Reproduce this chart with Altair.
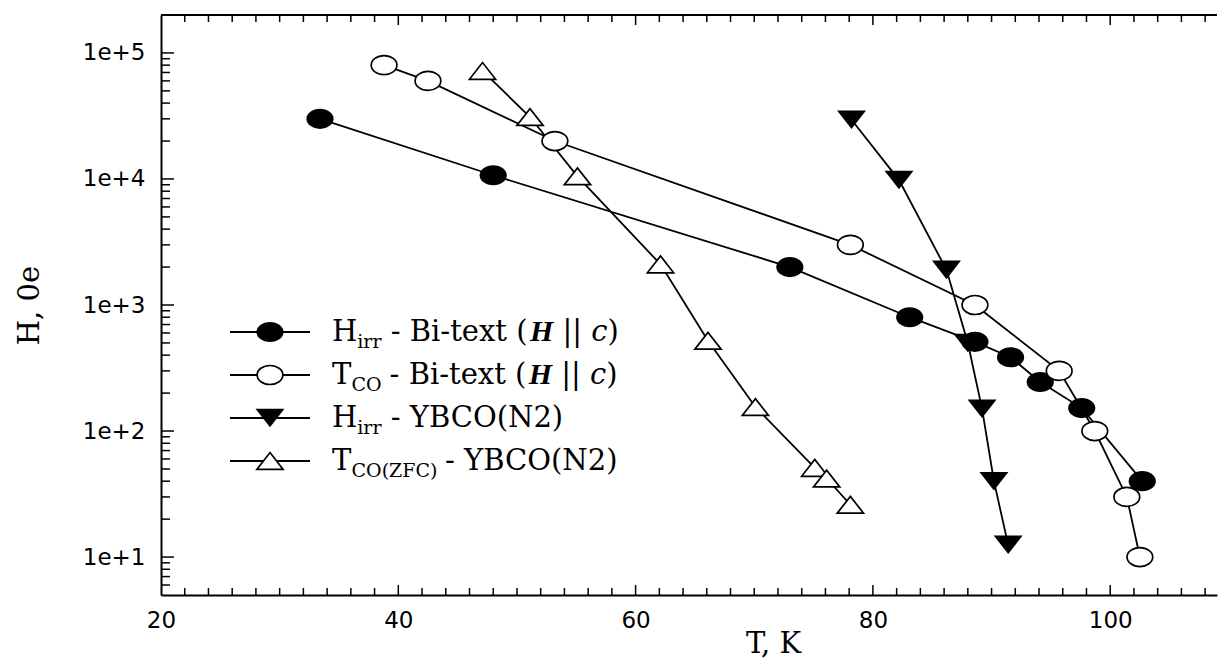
import altair as alt
import pandas as pd

# ---------------- data ----------------
hirr_bi_T = [33.4, 48.0, 73.0, 83.1, 88.6, 91.6, 94.1, 97.6, 102.7]
hirr_bi_H = [30000, 10700, 2000, 800, 510, 385, 245, 152, 40]

tco_bi_T = [38.8, 42.5, 53.2, 78.1, 88.6, 95.7, 98.7, 101.4, 102.5]
tco_bi_H = [80000, 60000, 20000, 3000, 1000, 300, 100, 30, 10]

hirr_y_T = [78.2, 82.2, 86.2, 88.0, 89.2, 90.2, 91.4]
hirr_y_H = [29500, 9800, 1900, 500, 150, 40, 12.5]

tco_y_T = [47.1, 51.1, 55.1, 62.1, 66.1, 70.1, 75.1, 76.1, 78.1]
tco_y_H = [72000, 31000, 10500, 2100, 520, 155, 51, 42, 26]

x_major = [20, 40, 60, 80, 100]
x_minor = [v for v in range(22, 109, 2) if v not in x_major]
x_major_inner = [40, 60, 80, 100]
y_major = [10, 100, 1000, 10000, 100000]
y_minor = [m * 10 ** e for e in range(0, 5) for m in range(2, 10) if m * 10 ** e > 5]

W, H = 1056, 580
xs = alt.Scale(domain=[20, 109], nice=False, zero=False)
ys = alt.Scale(type="log", domain=[5, 200000], nice=False)

ELLIPSE = "M-1,0A1,0.74,0,1,1,1,0A1,0.74,0,1,1,-1,0Z"
TRI_DOWN = "M-1,-0.64L1,-0.64L0,0.64Z"
TRI_UP = "M-1,0.64L1,0.64L0,-0.64Z"

def sdf(T, Hv, name):
    return pd.DataFrame({"T": T, "H": Hv, "s": name})

d1 = sdf(hirr_bi_T, hirr_bi_H, "a")
d2 = sdf(tco_bi_T, tco_bi_H, "b")
d3 = sdf(hirr_y_T, hirr_y_H, "c")
d4 = sdf(tco_y_T, tco_y_H, "d")
alld = pd.concat([d1, d2, d3, d4], ignore_index=True)

xaxis = alt.Axis(values=x_major, title="T, K", labelFont="DejaVu Sans", labelFontSize=23,
                 labelColor="black", labelPadding=14, ticks=False, tickSize=0,
                 domainColor="black", domainWidth=2, grid=False, labelFlush=False,
                 titleFont="DejaVu Serif", titleFontSize=29, titleFontWeight="normal",
                 titleColor="black", titleX=612, titleY=57, titleAlign="center",
                 titleBaseline="alphabetic")
yaxis = alt.Axis(values=y_major, labelExpr="'1e+' + round(log(datum.value)/LN10)",
                 title="H, 0e", labelFont="DejaVu Sans", labelFontSize=23, labelColor="black",
                 labelPadding=16, ticks=False, tickSize=0, domainColor="black", domainWidth=2,
                 grid=False, labelFlush=False, labelBaseline="middle",
                 titleFont="DejaVu Serif", titleFontSize=29, titleFontWeight="normal",
                 titleColor="black", titleX=-123, titleY=290, titleAngle=270,
                 titleAlign="center", titleBaseline="alphabetic")

X = alt.X("T:Q", scale=xs, axis=xaxis)
Y = alt.Y("H:Q", scale=ys, axis=yaxis)

lines = alt.Chart(alld).mark_line(color="black", strokeWidth=1.8).encode(
    x=X, y=Y, detail="s:N")

def pts(df, shape, filled, size):
    if filled:
        m = alt.Chart(df).mark_point(shape=shape, size=size, filled=True, fill="black",
                                     strokeWidth=0, opacity=1)
    else:
        m = alt.Chart(df).mark_point(shape=shape, size=size, filled=True, fill="white",
                                     stroke="black", strokeWidth=1.7, opacity=1)
    return m.encode(x=X, y=Y)

p1 = pts(d1, ELLIPSE, True, 740)
p2 = pts(d2, ELLIPSE, False, 660)
p3 = pts(d3, TRI_DOWN, True, 840)
p4 = pts(d4, TRI_UP, False, 690)

# ---- inward ticks ----
def xticks(vals, y0, y1):
    return alt.Chart(pd.DataFrame({"T": vals})).mark_rule(color="black", strokeWidth=1.5).encode(
        x=X, y=alt.value(y0), y2=alt.value(y1))

def yticks(vals, x0, x1):
    return alt.Chart(pd.DataFrame({"H": vals})).mark_rule(color="black", strokeWidth=1.5).encode(
        y=Y, x=alt.value(x0), x2=alt.value(x1))

ticks = [
    xticks(x_minor, H, H - 7), xticks(x_major_inner, H, H - 10),
    xticks(x_minor, 0, 7), xticks(x_major_inner, 0, 10),
    yticks(y_minor, 0, 9), yticks(y_major, 0, 13),
]

one = pd.DataFrame({"k": [0]})
top_frame = alt.Chart(one).mark_rule(color="black", strokeWidth=2).encode(
    x=alt.value(0), x2=alt.value(W), y=alt.value(0))

# ---- legend ----
row_y0, row_dy = 317, 43
lx0, lx1, lmx, tx0 = 69, 149, 109, 171
widths = {" ": 0.318, "-": 0.338, "(": 0.390, ")": 0.390, "|": 0.337, "B": 0.735, "C": 0.733,
          "F": 0.711, "H": 0.872, "N": 0.838, "O": 0.787, "T": 0.673, "Y": 0.734, "Z": 0.693,
          "c": 0.560, "e": 0.592, "i": 0.320, "r": 0.478, "t": 0.402, "x": 0.645, "2": 0.636}
styles = {
    "main": dict(font="DejaVu Serif", fontSize=29, fontStyle="normal", fontWeight="normal", dy=9),
    "sub": dict(font="DejaVu Serif", fontSize=19, fontStyle="normal", fontWeight="normal", dy=16),
    "bi": dict(font="Liberation Serif", fontSize=30, fontStyle="italic", fontWeight="bold", dy=9),
    "it": dict(font="DejaVu Serif", fontSize=29, fontStyle="italic", fontWeight="normal", dy=9),
}

def twidth(s, st):
    if st == "bi":
        return 0.778 * styles[st]["fontSize"] * len(s)
    return sum(widths.get(ch, 0.6) for ch in s) * styles[st]["fontSize"]

legend_rows = [
    [("H", "main"), ("irr", "sub"), (" - Bi-text (", "main"), ("H", "bi"), (" || ", "main"), ("c", "it"), (")", "main")],
    [("T", "main"), ("CO", "sub"), (" - Bi-text (", "main"), ("H", "bi"), (" || ", "main"), ("c", "it"), (")", "main")],
    [("H", "main"), ("irr", "sub"), (" - YBCO(N2)", "main")],
    [("T", "main"), ("CO(ZFC)", "sub"), (" - YBCO(N2)", "main")],
]
legend_shapes = [(ELLIPSE, True, 740), (ELLIPSE, False, 660), (TRI_DOWN, True, 840), (TRI_UP, False, 690)]

legend_layers = []
for i, row in enumerate(legend_rows):
    ry = row_y0 + i * row_dy
    legend_layers.append(alt.Chart(one).mark_rule(color="black", strokeWidth=1.8).encode(
        x=alt.value(lx0), x2=alt.value(lx1), y=alt.value(ry)))
    shp, filled, size = legend_shapes[i]
    if filled:
        mk = alt.Chart(one).mark_point(shape=shp, size=size, filled=True, fill="black", strokeWidth=0, opacity=1)
    else:
        mk = alt.Chart(one).mark_point(shape=shp, size=size, filled=True, fill="white", stroke="black",
                                       strokeWidth=1.7, opacity=1)
    legend_layers.append(mk.encode(x=alt.value(lmx), y=alt.value(ry)))
    cx = tx0
    for txt, st in row:
        s = styles[st]
        lead = len(txt) - len(txt.lstrip(" "))
        shown = txt.strip(" ")
        x_here = cx + lead * widths[" "] * s["fontSize"]
        legend_layers.append(alt.Chart(one).mark_text(
            text=shown, align="left", baseline="alphabetic", color="black",
            font=s["font"], fontSize=s["fontSize"], fontStyle=s["fontStyle"], fontWeight=s["fontWeight"]
        ).encode(x=alt.value(x_here), y=alt.value(ry + s["dy"])))
        cx += twidth(txt, st)

chart = alt.layer(lines, *ticks, top_frame, p1, p2, p3, p4, *legend_layers).properties(
    width=W, height=H,
    autosize=alt.AutoSizeParams(type="none"),
    padding={"left": 161, "top": 15, "right": 3, "bottom": 65},
).configure_view(stroke=None)

chart.save("out.html", embed_options={"renderer": "svg", "actions": False})
